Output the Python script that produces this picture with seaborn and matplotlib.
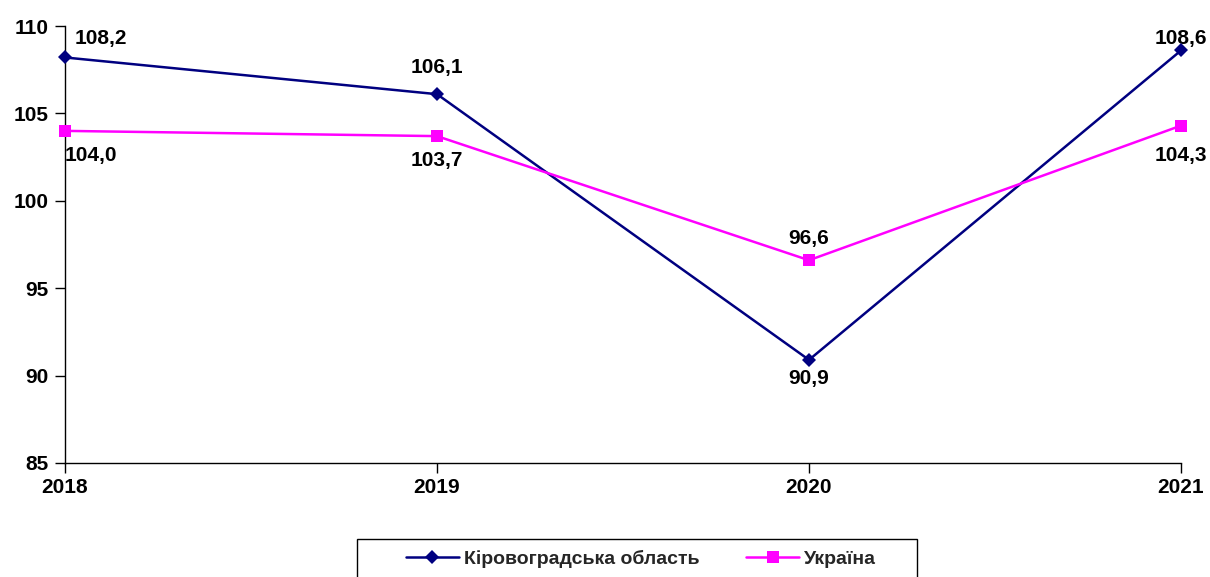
import matplotlib
matplotlib.use("Agg")
import matplotlib.pyplot as plt
import seaborn as sns
import pandas as pd
from matplotlib.lines import Line2D
from matplotlib.patches import Rectangle

years = ["2018", "2019", "2020", "2021"]
kirovohrad = [108.2, 106.1, 90.9, 108.6]
ukraine = [104.0, 103.7, 96.6, 104.3]
series_names = ["Кіровоградська область", "Україна"]

sns.set_theme(style="white")
plt.rcParams['font.family'] = ['Liberation Sans', 'DejaVu Sans']
plt.rcParams['font.weight'] = 'bold'

df = pd.DataFrame({
    "year": years * 2,
    "value": kirovohrad + ukraine,
    "series": [series_names[0]] * 4 + [series_names[1]] * 4,
})

fig = plt.figure(figsize=(12.10, 5.77), dpi=100)
ax = fig.add_axes([65/1210, 1 - 463/577, (1181-65)/1210, (463-26)/577])

colors = ["#000080", "#FF00FF"]
palette = dict(zip(series_names, colors))
sns.lineplot(data=df, x="year", y="value", hue="series", style="series",
             markers={series_names[0]: "D", series_names[1]: "s"},
             dashes=False, palette=palette, linewidth=1.8,
             markeredgewidth=0, ax=ax, sort=False, legend=False)
for line, ms in zip(ax.lines, [7.5, 9]):
    line.set_markersize(ms)
    line.set_clip_on(False)
    line.set_zorder(5)

ax.set_xlim(0, 3)
ax.set_ylim(85, 110)
ax.set_yticks([85, 90, 95, 100, 105, 110])
ax.set_xlabel("")
ax.set_ylabel("")
for s in ["top", "right"]:
    ax.spines[s].set_visible(False)
for s in ["left", "bottom"]:
    ax.spines[s].set_color("black")
    ax.spines[s].set_linewidth(1.0)
ax.tick_params(axis="both", which="both", direction="out", length=7, width=1,
               color="black", labelsize=15, labelcolor="black", left=True, bottom=True)
ax.tick_params(axis="y", pad=5)
ax.tick_params(axis="x", pad=4)
for t in ax.get_xticklabels() + ax.get_yticklabels():
    t.set_fontweight("bold")

def fmt(v):
    return f"{v:.1f}".replace(".", ",")

k_off = [(36, 19), (0, 27), (0, -19), (0, 12)]
u_off = [(26, -25), (0, -24), (0, 22), (0, -30)]
for i, (v, o) in enumerate(zip(kirovohrad, k_off)):
    ax.annotate(fmt(v), (i, v), xytext=o, textcoords="offset pixels",
                ha="center", va="center", fontsize=15, fontweight="bold",
                color="black", annotation_clip=False)
for i, (v, o) in enumerate(zip(ukraine, u_off)):
    ax.annotate(fmt(v), (i, v), xytext=o, textcoords="offset pixels",
                ha="center", va="center", fontsize=15, fontweight="bold",
                color="black", annotation_clip=False)

handles = [Line2D([], [], color=colors[0], marker="D", markersize=7.5, linewidth=1.8, markeredgewidth=0),
           Line2D([], [], color=colors[1], marker="s", markersize=9, linewidth=1.8, markeredgewidth=0)]
leg = fig.legend(handles, series_names, loc="center",
                 bbox_to_anchor=(641/1210, 1 - 559/577),
                 ncol=2, frameon=False,
                 prop={"size": 14, "weight": "bold"}, handlelength=2.73,
                 borderpad=0.0, columnspacing=2.4, handletextpad=0.26)
fig.patches.append(Rectangle((357/1210, -0.05), (917-357)/1210, 0.05 + (577-539)/577,
                             transform=fig.transFigure, fill=False,
                             edgecolor="black", linewidth=1.0))

fig.savefig("out.png", dpi=100)
